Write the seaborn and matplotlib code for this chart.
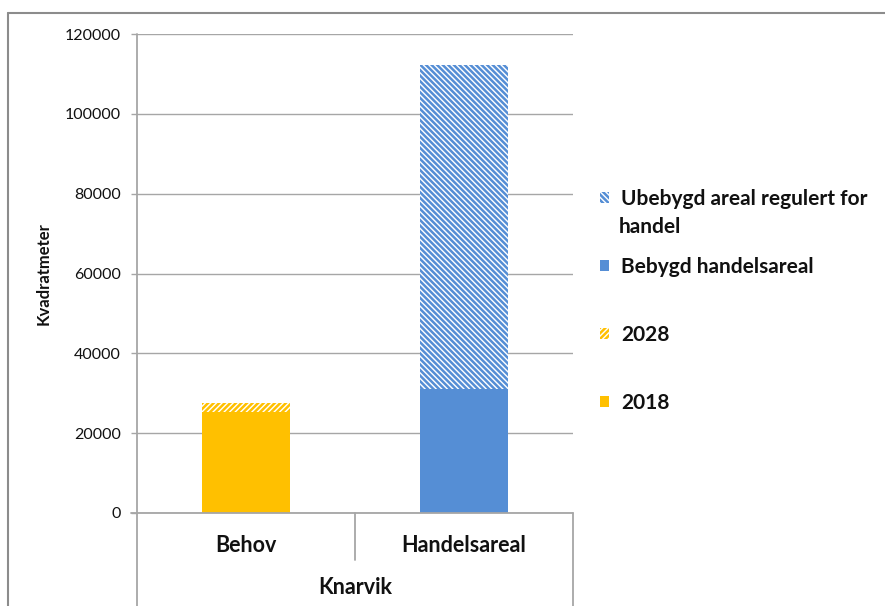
import numpy as np
import pandas as pd
import matplotlib.pyplot as plt
import seaborn as sns
from matplotlib.patches import Patch
from matplotlib.lines import Line2D

# data
categories = ["Behov", "Handelsareal"]
group_label = "Knarvik"
base_labels = ["2018", "Bebygd handelsareal"]
top_labels = ["2028", "Ubebygd areal regulert for handel"]
base_values = [25300, 31000]
top_values = [2200, 81200]
y_ticks = [0, 20000, 40000, 60000, 80000, 100000, 120000]

YELLOW = "#FFC000"
BLUE = "#558ED5"
GRID = "#A6A6A6"
TXT = "#111111"
HATCHES = ["//////", "\\\\\\\\\\\\"]

sns.set_theme(style="white")
plt.rcParams["font.family"] = ["Lato", "DejaVu Sans"]
plt.rcParams["hatch.linewidth"] = 1.8

W, H = 885, 606
fig = plt.figure(figsize=(W / 100, H / 100), dpi=100)
x0, x1, ytop, ybot = 137, 573, 34, 513
ax = fig.add_axes([x0 / W, 1 - ybot / H, (x1 - x0) / W, (ybot - ytop) / H])

df = pd.DataFrame({
    "kategori": categories,
    "total": np.add(base_values, top_values),
    "base": base_values,
})

# upper (hatched) part: draw the totals first, then cover with the base
sns.barplot(data=df, x="kategori", y="total", hue="kategori",
            palette=[YELLOW, BLUE], saturation=1, width=0.4,
            legend=False, ax=ax)
top_patches = list(ax.patches)
for p, col, h in zip(top_patches, [YELLOW, BLUE], HATCHES):
    p.set_facecolor("white")
    p.set_edgecolor(col)
    p.set_hatch(h)
    p.set_linewidth(0)

sns.barplot(data=df, x="kategori", y="base", hue="kategori",
            palette=[YELLOW, BLUE], saturation=1, width=0.4,
            legend=False, ax=ax)
for p in ax.patches[len(top_patches):]:
    p.set_linewidth(0)

ax.set_xlim(-0.5, 1.5)
ax.set_ylim(0, 120000)
ax.set_yticks(y_ticks)
ax.set_yticklabels([str(v) for v in y_ticks])
ax.yaxis.grid(True, color=GRID, linewidth=1)
ax.set_axisbelow(True)
ax.tick_params(axis="y", which="major", left=True, length=4.5, width=1,
               color=GRID, pad=7, labelsize=11.5, labelcolor=TXT)
ax.set_xticks([])
ax.set_xlabel("")
for s in ax.spines.values():
    s.set_visible(False)

ax.set_ylabel("Kvadratmeter", fontsize=12, fontweight="bold", color=TXT)
ax.yaxis.set_label_coords(-0.195, 0.50)

# multi-level category axis lines
axw, axh = x1 - x0, ybot - ytop
kw = dict(transform=ax.transAxes, clip_on=False, color=GRID, lw=1.3)
ax.plot([0, 0], [1, -(H - ybot) / axh], **kw)
ax.plot([-6 / axw, 1], [0, 0], **kw)
ax.plot([0.5, 0.5], [0, -47 / axh], **kw)
ax.plot([1, 1], [0, -(H - ybot) / axh], **kw)

for i, c in enumerate(categories):
    ax.text((i + 0.5) / 2, -32 / axh, c, transform=ax.transAxes,
            ha="center", va="center", fontsize=15.5, fontweight="bold",
            color=TXT)
ax.text(0.5, -75 / axh, group_label, transform=ax.transAxes,
        ha="center", va="center", fontsize=15.5, fontweight="bold",
        color=TXT)

# outer chart border
fig.add_artist(Line2D([8 / W, 8 / W], [0, 1 - 13 / H], color="#8C8C8C", lw=1.5))
fig.add_artist(Line2D([8 / W, 1], [1 - 13 / H, 1 - 13 / H], color="#8C8C8C", lw=1.5))


def handle(col, hatch):
    if hatch:
        return Patch(facecolor="white", edgecolor=col, hatch=hatch, lw=0)
    return Patch(facecolor=col, edgecolor=col, lw=0)


# legend: the long label wraps, its second line sits under the first
first_line, rest = top_labels[1].rsplit(" ", 1)
leg = fig.legend(
    handles=[handle(BLUE, HATCHES[1]), handle(BLUE, None),
             handle(YELLOW, HATCHES[0]), handle(YELLOW, None)],
    labels=[first_line, base_labels[1], top_labels[0], base_labels[0]],
    frameon=False, loc="upper left", borderpad=0, borderaxespad=0,
    bbox_to_anchor=(600 / W, 1 - 189 / H), labelspacing=2.3,
    handlelength=0.45, handleheight=0.45, handletextpad=0.55,
    prop={"size": 15, "weight": "bold"})
for t in leg.get_texts():
    t.set_color(TXT)
fig.text(619 / W, 1 - 227 / H, rest, ha="left", va="center",
         fontsize=15, fontweight="bold", color=TXT)

fig.savefig("out.png", dpi=100)
